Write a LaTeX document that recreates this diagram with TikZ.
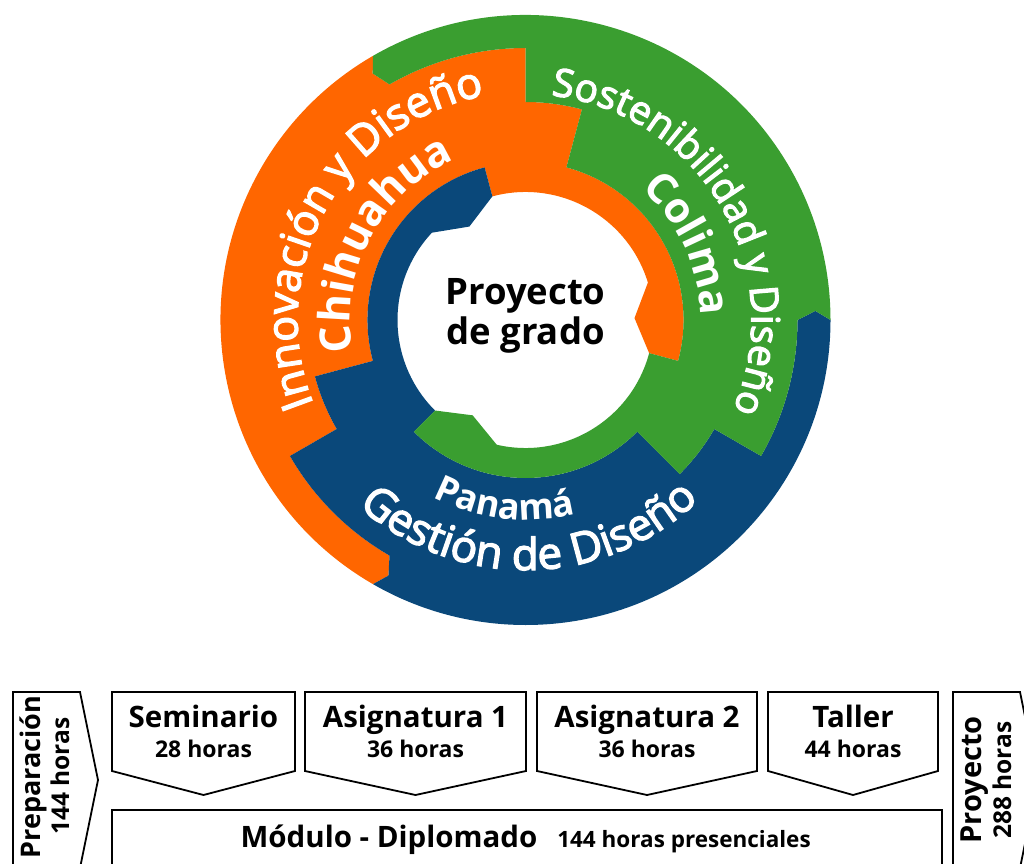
\documentclass[tikz,border=0pt]{standalone}
\usepackage{fontspec}
\setmainfont{Open Sans}
\newfontfamily\semifont{Open Sans}[FakeBold=3]
\usetikzlibrary{decorations.text}
\definecolor{cOr}{RGB}{255,102,0}
\definecolor{cGr}{RGB}{58,158,48}
\definecolor{cBl}{RGB}{10,72,122}
\newcommand{\ringpart}[2]{%
\fill[#1] (345+#2:158) -- (345+#2:128) -- (1+#2:109) -- (17+#2:128)
 arc[start angle=17+#2, end angle=105+#2, radius=128]
 -- (105+#2:158) arc[start angle=105+#2, end angle=195+#2, radius=158]
 -- (195+#2:218) arc[start angle=195+#2, end angle=210+#2, radius=218]
 -- (210+#2:272) arc[start angle=210+#2, end angle=240+#2, radius=272]
 -- (241.8+#2:290) -- (240+#2:305) arc[start angle=240+#2, end angle=120+#2, radius=305]
 -- (121.8+#2:290) -- (120+#2:272) arc[start angle=120+#2, end angle=90+#2, radius=272]
 -- (90+#2:218) arc[start angle=90+#2, end angle=75+#2, radius=218]
 -- (75+#2:158) arc[start angle=75+#2, end angle=-15+#2, radius=158] -- cycle;}
\tikzset{
  boxline/.style={draw=black, line width=1.8pt, fill=white, line join=miter},
  ttl/.style={font=\bfseries\fontsize{29.5}{32}\selectfont, anchor=base, inner sep=0pt},
  sub/.style={font=\bfseries\fontsize{23}{26}\selectfont, anchor=base, inner sep=0pt},
  vttl/.style={font=\bfseries\fontsize{27}{30}\selectfont, rotate=90, anchor=base, inner sep=0pt},
  vsub/.style={font=\bfseries\fontsize{24.5}{28}\selectfont, rotate=90, anchor=base, inner sep=0pt},
  ctr/.style={font=\bfseries\fontsize{36.5}{40}\selectfont, anchor=base, inner sep=0pt},
  arcpath/.style={decorate, decoration={text along path, text align=center, text color=white}}
}
\begin{document}
\begin{tikzpicture}[x=1pt,y=1pt]
\useasboundingbox (0,0) rectangle (1024,863);
\clip (0,0) rectangle (1024,863);
\begin{scope}[shift={(525.5,543)}]
  \ringpart{cOr}{0}
  \ringpart{cBl}{120}
  \ringpart{cGr}{240}
  % texts along arcs
  \path[arcpath, decoration={text={|\semifont\fontsize{43}{43}\selectfont|Innovación y Diseño}}]
    (216:228) arc[start angle=216, end angle=86, radius=228];
  \path[arcpath, decoration={text={|\bfseries\fontsize{43}{43}\selectfont|Chihuahua}}]
    (202:175) arc[start angle=202, end angle=102, radius=175];
  \path[arcpath, decoration={text={|\semifont\fontsize{39}{39}\selectfont|Sostenibilidad y Diseño}}]
    (91:226) arc[start angle=91, end angle=-31, radius=226];
  \path[arcpath, decoration={text={|\bfseries\fontsize{42}{42}\selectfont|Colima}}]
    (75:175) arc[start angle=75, end angle=-25, radius=175];
  \path[arcpath, decoration={text={|\bfseries\fontsize{36}{36}\selectfont|Panamá}}]
    (213:200) arc[start angle=213, end angle=314, radius=200];
  \path[arcpath, decoration={text={|\semifont\fontsize{44}{44}\selectfont|Gestión de Diseño}}]
    (211:250) arc[start angle=211, end angle=331, radius=250];
\end{scope}
\node[ctr] (p1) at (525.5,558) {Proyecto};
\node[ctr] (p2) at (525.5,518) {de grado};
% bottom boxes
\draw[boxline] (13,-10) -- (13,171) -- (80,171) -- (98,83) -- (80,-5);
\node[vttl] (prep) at (40,86) {Preparación};
\node[vsub] (preph) at (69,87) {144 horas};
\draw[boxline] (112,171) -- (295,171) -- (295,92) -- (203.5,68) -- (112,92) -- cycle;
\node[ttl] (sem) at (203.5,136) {Seminario};
\node[sub] (semh) at (203.5,106) {28 horas};
\draw[boxline] (305,171) -- (526,171) -- (526,92) -- (415.5,68) -- (305,92) -- cycle;
\node[ttl] (as1) at (415.5,136) {Asignatura 1};
\node[sub] (as1h) at (415.5,106) {36 horas};
\draw[boxline] (537,171) -- (757,171) -- (757,92) -- (647,68) -- (537,92) -- cycle;
\node[ttl] (as2) at (647,136) {Asignatura 2};
\node[sub] (as2h) at (647,106) {36 horas};
\draw[boxline] (768,171) -- (938,171) -- (938,92) -- (853,68) -- (768,92) -- cycle;
\node[ttl] (tal) at (853,136) {Taller};
\node[sub] (talh) at (853,106) {44 horas};
\draw[boxline] (112,-10) -- (112,53) -- (942,53) -- (942,-10);
\node[font=\bfseries\fontsize{29.5}{32}\selectfont, anchor=base, inner sep=0pt] (mod) at (389,16) {Módulo - Diplomado};
\node[font=\bfseries\fontsize{22.5}{26}\selectfont, anchor=base, inner sep=0pt] (modh) at (684,16) {144 horas presenciales};
\draw[boxline] (953,-10) -- (953,171) -- (1020,171) -- (1038,83) -- (1020,-5);
\node[vttl, font=\bfseries\fontsize{29}{32}\selectfont] (proy) at (981,83) {Proyecto};
\node[vsub] (proyh) at (1011,83) {288 horas};
\end{tikzpicture}
\end{document}
